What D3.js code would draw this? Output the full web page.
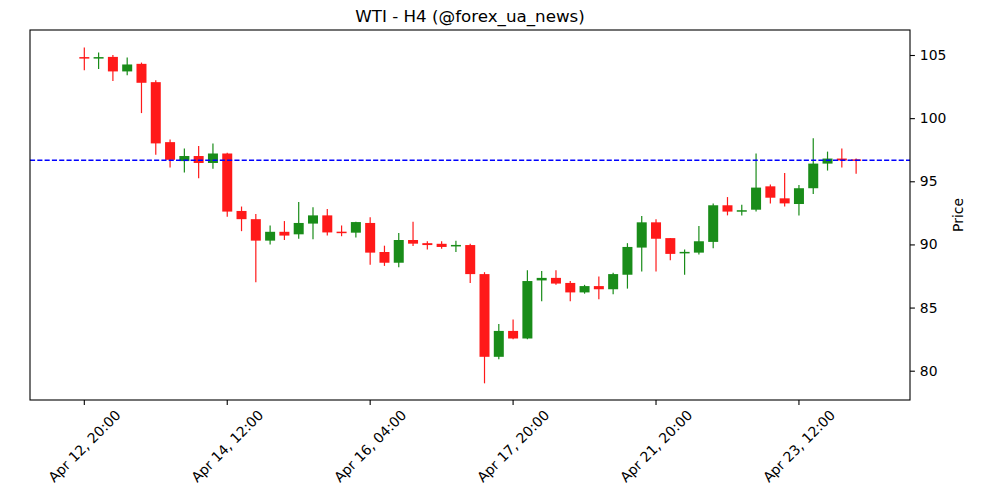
<!DOCTYPE html>
<html>
<head>
<meta charset="utf-8">
<script src="https://cdn.jsdelivr.net/npm/d3@7"></script>
<style>
	body { margin: 0; background: #fff; }
	text { font-family: "DejaVu Sans", sans-serif; }
</style>
</head>
<body>
<div id="viz"></div>
<script>

// WTI H4 candles
var opens  = [104.8, 104.75, 104.85, 103.7, 104.3, 102.85, 98.1, 96.6, 97.0, 96.45,
	97.2, 92.65, 92.0, 90.3, 91.0, 90.8, 91.65, 92.3, 91.0, 90.93,
	91.7, 89.4, 88.55, 90.35, 90.1, 90.05, 89.85, 89.95, 87.65, 81.1,
	83.15, 82.55, 87.15, 87.35, 86.95, 86.2, 86.7, 86.45, 87.6, 89.75,
	91.75, 90.5, 89.3, 89.35, 90.2, 93.1, 92.6, 92.75, 94.6, 93.65,
	93.2, 94.45, 96.4, 96.8, 96.7];
var highs  = [105.6, 105.2, 105.0, 104.8, 104.4, 103.0, 98.3, 97.6, 97.8, 98.0,
	97.25, 93.0, 92.4, 91.5, 91.85, 93.35, 92.95, 92.8, 91.5, 91.8,
	92.15, 89.9, 90.9, 91.8, 90.25, 90.25, 90.3, 90.05, 87.8, 83.7,
	84.05, 87.95, 87.9, 87.95, 87.1, 86.8, 87.45, 87.75, 90.1, 92.25,
	92.0, 90.5, 89.6, 91.45, 93.25, 93.75, 93.15, 97.2, 94.75, 95.65,
	94.7, 98.4, 97.35, 97.6, 96.8];
var lows   = [103.8, 103.9, 102.95, 103.4, 100.4, 97.1, 96.1, 95.7, 95.25, 96.0,
	92.2, 91.05, 87.0, 90.0, 90.35, 90.45, 90.4, 90.7, 90.65, 90.55,
	88.4, 88.3, 88.2, 89.87, 89.6, 89.65, 89.4, 86.95, 79.0, 80.9,
	82.5, 82.5, 85.5, 86.8, 85.5, 86.1, 85.65, 86.05, 86.5, 87.85,
	87.85, 88.75, 87.6, 89.2, 89.7, 92.3, 92.3, 92.6, 93.25, 93.0,
	92.3, 94.0, 95.85, 96.1, 95.6];
var closes = [104.75, 104.8, 103.7, 104.25, 102.8, 98.0, 96.7, 97.0, 96.45, 97.2,
	92.6, 92.0, 90.3, 91.0, 90.7, 91.7, 92.3, 90.95, 90.9, 91.77,
	89.35, 88.55, 90.35, 90.06, 89.95, 89.8, 89.95, 87.65, 81.1, 83.15,
	82.55, 87.1, 87.35, 86.9, 86.2, 86.7, 86.45, 87.65, 89.8, 91.75,
	90.45, 89.25, 89.4, 90.25, 93.1, 92.6, 92.7, 94.5, 93.7, 93.25,
	94.45, 96.4, 96.8, 96.65, 96.65];

var tickIndex  = [0, 10, 20, 30, 40, 50];
var tickLabels = ["Apr 12, 20:00", "Apr 14, 12:00", "Apr 16, 04:00", "Apr 17, 20:00", "Apr 21, 20:00", "Apr 23, 12:00"];
var priceTicks = [80, 85, 90, 95, 100, 105];
var hline = [96.66];

var W = 1000, H = 500;
var pLeft = 30, pRight = 910, pTop = 30, pBottom = 400;
var upColor = "#198c19", downColor = "#ff1919";

var candles = opens.map(function(o, i) {
	return {i: i, o: o, h: highs[i], l: lows[i], c: closes[i]};
});

var x = d3.scaleLinear().domain([-3.8, 57.77]).range([pLeft, pRight]);
var y = d3.scaleLinear().domain([77.68, 106.98]).range([pBottom, pTop]);
var bw = (x(1) - x(0)) * 0.7;

var svg = d3.select('#viz')
	.append('svg')
		.attr('width', W)
		.attr('height', H)
		.style('background', '#fff');

svg.append('defs').append('clipPath').attr('id', 'plot')
	.append('rect')
		.attr('x', pLeft).attr('y', pTop)
		.attr('width', pRight - pLeft).attr('height', pBottom - pTop);

var plot = svg.append('g').attr('clip-path', 'url(#plot)');

var colorOf = function(d) { return d.c >= d.o ? upColor : downColor; };

// wicks
plot.selectAll('line.wick')
	.data(candles)
	.enter().append('line')
		.attr('class', 'wick')
		.attr('x1', function(d) { return x(d.i); })
		.attr('x2', function(d) { return x(d.i); })
		.attr('y1', function(d) { return y(d.h); })
		.attr('y2', function(d) { return y(d.l); })
		.style('stroke', colorOf)
		.style('stroke-width', 1.2);

// bodies
plot.selectAll('rect.body')
	.data(candles)
	.enter().append('rect')
		.attr('class', 'body')
		.attr('x', function(d) { return x(d.i) - bw / 2; })
		.attr('y', function(d) {
			var t = y(Math.max(d.o, d.c)), b = y(Math.min(d.o, d.c));
			return b - t < 1.5 ? (t + b) / 2 - 0.75 : t;
		})
		.attr('width', bw)
		.attr('height', function(d) {
			return Math.max(1.5, y(Math.min(d.o, d.c)) - y(Math.max(d.o, d.c)));
		})
		.style('fill', colorOf);

// last price line
plot.selectAll('line.hl')
	.data(hline)
	.enter().append('line')
		.attr('class', 'hl')
		.attr('x1', pLeft).attr('x2', pRight)
		.attr('y1', function(d) { return y(d); })
		.attr('y2', function(d) { return y(d); })
		.style('stroke', 'blue')
		.style('stroke-width', 1.4)
		.style('stroke-dasharray', '5.1,2.2');

// frame
svg.append('rect')
	.attr('x', pLeft).attr('y', pTop)
	.attr('width', pRight - pLeft).attr('height', pBottom - pTop)
	.style('fill', 'none')
	.style('stroke', '#000')
	.style('stroke-width', 1.1);

// y axis on the right
var yAxis = svg.append('g')
	.attr('transform', 'translate(' + pRight + ',0)')
	.call(d3.axisRight(y).tickValues(priceTicks).tickSize(4.9).tickPadding(4.9));
yAxis.select('.domain').remove();
yAxis.selectAll('line').style('stroke', '#000').style('stroke-width', 1.1);
yAxis.selectAll('text')
	.style('font-family', '"DejaVu Sans", sans-serif')
	.style('font-size', '13.9px')
	.style('fill', '#000');

// x ticks
var xg = svg.append('g').attr('class', 'xticks');
xg.selectAll('line')
	.data(tickIndex)
	.enter().append('line')
		.attr('x1', function(d) { return x(d); })
		.attr('x2', function(d) { return x(d); })
		.attr('y1', pBottom)
		.attr('y2', pBottom + 4.9)
		.style('stroke', '#000')
		.style('stroke-width', 1.1);
xg.selectAll('text')
	.data(tickIndex)
	.enter().append('text')
		.attr('transform', function(d) {
			return 'translate(' + x(d) + ',' + (pBottom + 46) + ') rotate(-45)';
		})
		.attr('text-anchor', 'middle')
		.attr('dominant-baseline', 'central')
		.style('font-size', '13.9px')
		.text(function(d, i) { return tickLabels[i]; });

// labels
svg.append('text')
	.attr('x', (pLeft + pRight) / 2)
	.attr('y', pTop - 8)
	.attr('text-anchor', 'middle')
	.style('font-size', '16.7px')
	.text('WTI - H4 (@forex_ua_news)');

svg.append('text')
	.attr('transform', 'translate(963,' + (pTop + pBottom) / 2 + ') rotate(-90)')
	.attr('text-anchor', 'middle')
	.style('font-size', '13.9px')
	.text('Price');

</script>
</body>
</html>
